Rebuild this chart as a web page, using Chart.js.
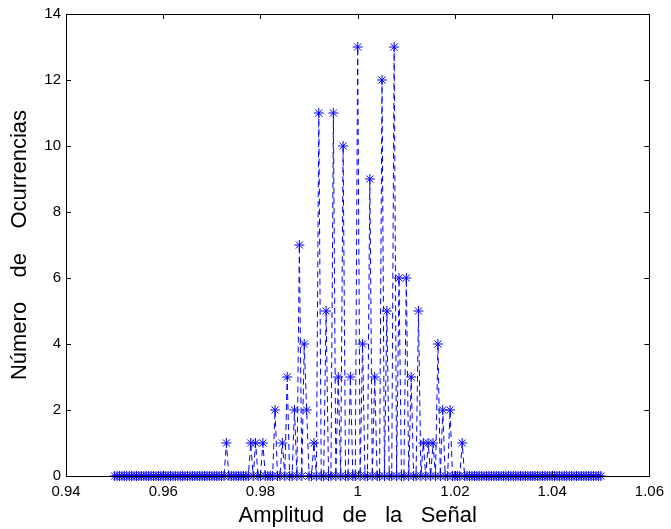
<!DOCTYPE html>
<html>
<head>
<meta charset="utf-8">
<script src="https://cdn.jsdelivr.net/npm/chart.js@4.4.1/dist/chart.umd.min.js"></script>
<style>
    html, body { margin: 0; padding: 0; background: #fff; }
    #wrap { width: 671px; height: 529px; position: relative; }
</style>
</head>
<body>
<div id="wrap"><canvas id="histChart"></canvas></div>
<script>
// bins: 0.95 .. 1.05, width 0.0005 (201 bins)
const binStart = 0.95;
const binWidth = 0.0005;

// occurrences per bin (20 per row)
const counts = [
    0,0,0,0,0,0,0,0,0,0,0,0,0,0,0,0,0,0,0,0,
    0,0,0,0,0,0,0,0,0,0,0,0,0,0,0,0,0,0,0,0,
    0,0,0,0,0,0,1,0,0,0,0,0,0,0,0,0,1,0,1,0,
    0,1,0,0,0,0,2,0,0,1,0,3,0,0,2,0,7,0,4,2,
    0,0,1,0,11,0,0,5,0,0,11,0,3,0,10,0,0,3,0,0,
    13,0,4,0,0,9,0,3,0,0,12,0,5,0,0,13,0,6,0,0,
    6,0,3,0,0,5,0,1,0,1,0,1,0,4,0,2,0,0,2,0,
    0,0,0,1,0,0,0,0,0,0,0,0,0,0,0,0,0,0,0,0,
    0,0,0,0,0,0,0,0,0,0,0,0,0,0,0,0,0,0,0,0,
    0,0,0,0,0,0,0,0,0,0,0,0,0,0,0,0,0,0,0,0,
    0
];

const xTicks = [0.94, 0.96, 0.98, 1.00, 1.02, 1.04, 1.06];
const yTicks = [0, 2, 4, 6, 8, 10, 12, 14];

const xLabel = 'Amplitud   de   la   Señal';
const yLabel = 'Número    de    Ocurrencias';

const FONT = "'Liberation Sans', Arial, Helvetica, sans-serif";

const points = counts.map((c, i) => ({ x: binStart + i * binWidth, y: c }));

// matlab style box with inward ticks
const boxPlugin = {
    id: 'box',
    afterDraw(chart) {
        const { ctx, chartArea: a, scales } = chart;
        const len = 5;
        ctx.save();
        ctx.strokeStyle = '#000';
        ctx.lineWidth = 1;
        ctx.beginPath();
        ctx.rect(Math.round(a.left) + 0.5, Math.round(a.top) + 0.5,
                 Math.round(a.right - a.left), Math.round(a.bottom - a.top));
        xTicks.forEach(v => {
            const px = Math.round(scales.x.getPixelForValue(v)) + 0.5;
            ctx.moveTo(px, a.bottom); ctx.lineTo(px, a.bottom - len);
            ctx.moveTo(px, a.top); ctx.lineTo(px, a.top + len);
        });
        yTicks.forEach(v => {
            const py = Math.round(scales.y.getPixelForValue(v)) + 0.5;
            ctx.moveTo(a.left, py); ctx.lineTo(a.left + len, py);
            ctx.moveTo(a.right, py); ctx.lineTo(a.right - len, py);
        });
        ctx.stroke();
        ctx.restore();
    }
};

const ctx = document.getElementById('histChart').getContext('2d');

new Chart(ctx, {
    type: 'line',
    data: {
        datasets: [{
            data: points,
            borderColor: '#0000ff',
            borderWidth: 1,
            borderDash: [6, 4],
            tension: 0,
            fill: false,
            pointStyle: 'star',
            pointRadius: 5,
            pointBorderWidth: 1,
            pointBorderColor: '#0000ff',
            pointBackgroundColor: '#0000ff',
            clip: false
        }]
    },
    options: {
        responsive: true,
        maintainAspectRatio: false,
        animation: false,
        layout: { padding: { left: 0, top: 13, right: 17, bottom: 0 } },
        plugins: {
            legend: { display: false },
            tooltip: { enabled: false }
        },
        scales: {
            x: {
                type: 'linear',
                min: 0.94,
                max: 1.06,
                afterBuildTicks: s => { s.ticks = xTicks.map(v => ({ value: v })); },
                afterFit: s => { s.height = 53; },
                grid: { display: false, drawTicks: false },
                border: { display: false },
                ticks: {
                    color: '#000',
                    padding: 7,
                    maxRotation: 0,
                    font: { family: FONT, size: 15 },
                    callback: v => String(parseFloat(v.toFixed(2)))
                },
                title: {
                    display: true,
                    text: xLabel,
                    color: '#000',
                    padding: { top: 0, bottom: 0 },
                    font: { family: FONT, size: 22 }
                }
            },
            y: {
                type: 'linear',
                min: 0,
                max: 14,
                afterBuildTicks: s => { s.ticks = yTicks.map(v => ({ value: v })); },
                afterFit: s => { s.width = 66; },
                grid: { display: false, drawTicks: false },
                border: { display: false },
                ticks: {
                    color: '#000',
                    padding: 5,
                    font: { family: FONT, size: 15 }
                },
                title: {
                    display: true,
                    text: yLabel,
                    color: '#000',
                    padding: { top: 7, bottom: 0 },
                    font: { family: FONT, size: 22 }
                }
            }
        }
    },
    plugins: [boxPlugin]
});
</script>
</body>
</html>
